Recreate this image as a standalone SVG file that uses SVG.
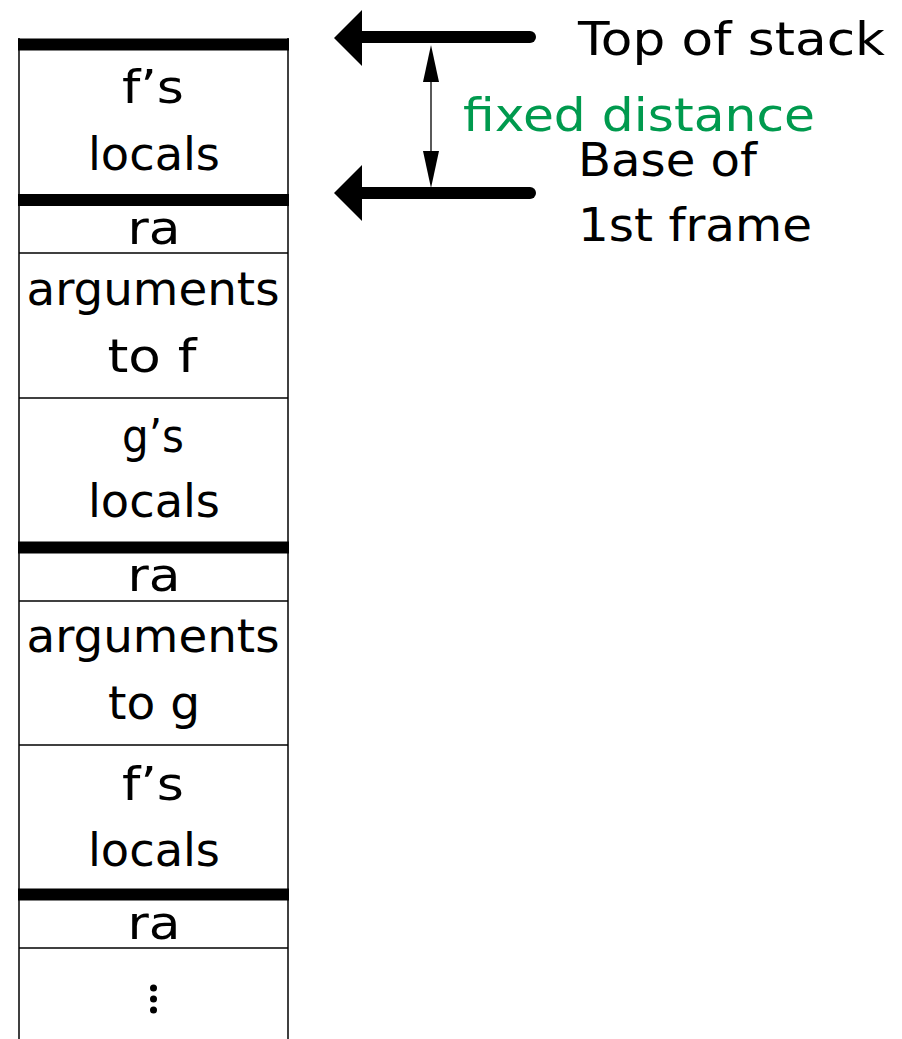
<svg xmlns="http://www.w3.org/2000/svg" width="902" height="1039" viewBox="0 0 902 1039">
<style>
text{font-family:"DejaVu Sans","Noto Sans",sans-serif;font-size:46px;fill:#000}
.c{text-anchor:middle}
.g{fill:#009A4E}
.thin{stroke:#000;stroke-width:1.5}
.bar{stroke:#000;stroke-width:12}
.ptr{stroke:#000;stroke-width:12;stroke-linecap:round;fill:none}
</style>
<g id="stack">
<line class="thin" x1="19" y1="38" x2="19" y2="1039"/>
<line class="thin" x1="288" y1="38" x2="288" y2="1039"/>
</g>
<g id="dividers">
<line class="bar" x1="18" y1="44.5" x2="289" y2="44.5"/>
<line class="bar" x1="18" y1="200" x2="289" y2="200"/>
<line class="thin" x1="19" y1="253" x2="288" y2="253"/>
<line class="thin" x1="19" y1="398" x2="288" y2="398"/>
<line class="bar" x1="18" y1="547.5" x2="289" y2="547.5"/>
<line class="thin" x1="19" y1="601" x2="288" y2="601"/>
<line class="thin" x1="19" y1="745" x2="288" y2="745"/>
<line class="bar" x1="18" y1="894.5" x2="289" y2="894.5"/>
<line class="thin" x1="19" y1="948" x2="288" y2="948"/>
</g>
<g id="frame-f1">
<text class="c" x="153" y="103" textLength="62" lengthAdjust="spacingAndGlyphs">f’s</text>
<text class="c" x="154" y="170" textLength="132" lengthAdjust="spacingAndGlyphs">locals</text>
</g>
<g id="ra1"><text class="c" x="154" y="244" textLength="53" lengthAdjust="spacingAndGlyphs">ra</text></g>
<g id="args-f">
<text class="c" x="153" y="305" textLength="253" lengthAdjust="spacingAndGlyphs">arguments</text>
<text class="c" x="152" y="372" textLength="89" lengthAdjust="spacingAndGlyphs">to f</text>
</g>
<g id="frame-g">
<text class="c" x="153" y="452" textLength="62" lengthAdjust="spacingAndGlyphs">g’s</text>
<text class="c" x="154" y="517" textLength="132" lengthAdjust="spacingAndGlyphs">locals</text>
</g>
<g id="ra2"><text class="c" x="154" y="591" textLength="53" lengthAdjust="spacingAndGlyphs">ra</text></g>
<g id="args-g">
<text class="c" x="153" y="652" textLength="253" lengthAdjust="spacingAndGlyphs">arguments</text>
<text class="c" x="154" y="719" textLength="92" lengthAdjust="spacingAndGlyphs">to g</text>
</g>
<g id="frame-f2">
<text class="c" x="153" y="800" textLength="62" lengthAdjust="spacingAndGlyphs">f’s</text>
<text class="c" x="154" y="866" textLength="132" lengthAdjust="spacingAndGlyphs">locals</text>
</g>
<g id="ra3"><text class="c" x="154" y="939" textLength="53" lengthAdjust="spacingAndGlyphs">ra</text></g>
<g id="more">
<circle cx="153.5" cy="988" r="3.5"/>
<circle cx="153.5" cy="999" r="3.5"/>
<circle cx="153.5" cy="1010" r="3.5"/>
</g>
<g id="connectors">
<line class="ptr" x1="362" y1="37" x2="530" y2="37"/>
<path d="M334,38 L362,10 L362,66 Z" fill="#000"/>
<line class="ptr" x1="362" y1="193" x2="530" y2="193"/>
<path d="M334,193 L362,165 L362,221 Z" fill="#000"/>
<line x1="431" y1="75" x2="431" y2="158" stroke="#000" stroke-width="1.3"/>
<path d="M431,45 L439,82 L423,82 Z" fill="#000"/>
<path d="M431,188 L439,151 L423,151 Z" fill="#000"/>
</g>
<g id="labels">
<text x="578" y="55" textLength="307" lengthAdjust="spacingAndGlyphs">Top of stack</text>
<text class="g" x="463" y="131" textLength="352" lengthAdjust="spacingAndGlyphs">fixed distance</text>
<text x="578" y="176" textLength="179" lengthAdjust="spacingAndGlyphs">Base of</text>
<text x="578" y="241" textLength="234" lengthAdjust="spacingAndGlyphs">1st frame</text>
</g>
</svg>
